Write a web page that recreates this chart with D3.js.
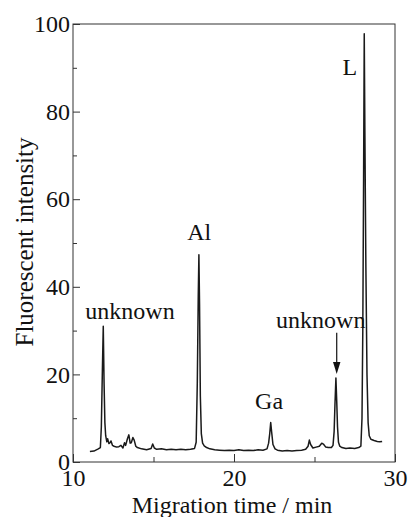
<!DOCTYPE html>
<html>
<head>
<meta charset="utf-8">
<script src="https://cdn.jsdelivr.net/npm/d3@7"></script>
</head>
<body style="margin:0;background:#fff">
<svg id="chart" width="409" height="517" style="display:block"></svg>
<script>
// ---- data ----
const timeMin = [
  11.05, 11.3, 11.57, 11.7, 11.76, 11.82, 11.88, 11.93, 11.98, 12.03,
  12.1, 12.15, 12.23, 12.3, 12.36, 12.45, 12.55, 12.71, 12.85, 12.98,
  13.1, 13.2, 13.27, 13.38, 13.47, 13.55, 13.62, 13.72, 13.8, 13.9,
  14.0, 14.26, 14.57, 14.85, 14.95, 15.05, 15.2, 15.5, 15.8, 16.1,
  16.4, 16.7, 17.0, 17.3, 17.55, 17.65, 17.72, 17.78, 17.82, 17.86,
  17.91, 17.97, 18.05, 18.15, 18.3, 18.5, 18.8, 19.1, 19.4, 19.7,
  20.0, 20.3, 20.6, 20.9, 21.2, 21.5, 21.8, 22.05, 22.15, 22.22,
  22.28, 22.34, 22.42, 22.55, 22.7, 23.0, 23.3, 23.6, 23.9, 24.2,
  24.45, 24.6, 24.68, 24.76, 24.9, 25.1, 25.3, 25.45, 25.55, 25.7,
  25.85, 26.05, 26.15, 26.22, 26.27, 26.33, 26.38, 26.43, 26.49, 26.57,
  26.7, 26.95, 27.2, 27.5, 27.75, 27.88, 27.95, 28.0, 28.05, 28.09,
  28.13, 28.19, 28.26, 28.33, 28.4, 28.5, 28.7, 28.9, 29.05, 29.2
];
const intensity = [
  2.4, 2.5, 3.0, 3.3, 8, 20, 31, 18, 9, 6.0,
  4.6, 5.3, 4.2, 4.4, 4.8, 3.8, 3.6, 3.4, 3.5, 3.8,
  3.2, 4.4, 3.8, 5.3, 6.2, 4.3, 4.4, 5.6, 5.0, 3.6,
  3.3, 3.0, 2.8, 3.1, 4.1, 3.2, 2.9, 3.0, 2.8, 2.9,
  2.8, 2.9, 2.8, 2.9, 3.1, 4.5, 18, 38, 47.3, 36,
  15, 6.5, 4.3, 3.7, 3.3, 3.0, 2.8, 2.7, 2.6, 2.7,
  2.6, 2.8, 2.6, 2.7, 2.6, 2.8, 2.7, 3.0, 4.3, 6.5,
  9.0, 6.8, 4.0, 3.0, 2.7, 2.5, 2.6, 2.5, 2.6, 2.7,
  2.9, 3.6, 5.0, 4.0, 3.2, 3.4, 3.6, 4.3, 4.1, 3.4,
  3.3, 3.3, 3.8, 7, 13, 19.2, 14, 8, 4.5, 3.6,
  3.3, 3.1, 3.2, 3.1, 3.3, 3.6, 10, 30, 65, 97.8,
  75, 45, 20, 9, 6, 5.2, 4.9, 4.7, 4.6, 4.7
];
const xMajorTicks = [10, 20, 30];
const xMinorTicks = [15, 25];
const yMajorTicks = [0, 20, 40, 60, 80, 100];
const yMinorTicks = [10, 30, 50, 70, 90];
const peakLabels = ["unknown", "Al", "Ga", "unknown", "L"];
const peakLabelTime = [13.54, 17.84, 22.18, 25.39, 27.19];
const peakLabelValue = [32.7, 50.7, 12.1, 30.6, 88.4];
const arrowTime = 26.38;
const arrowFrom = 29.5;
const arrowTo = 20.1;
const xTitle = "Migration time / min";
const yTitle = "Fluorescent intensity";

// ---- layout ----
const FONT = "Liberation Serif";
const plot = { left: 73, right: 395, top: 24, bottom: 462 };
const svg = d3.select("#chart");

const x = d3.scaleLinear().domain([10, 30]).range([plot.left, plot.right]);
const y = d3.scaleLinear().domain([0, 100]).range([plot.bottom, plot.top]);

const axisColor = "#333";
const fontSize = 24;

svg.append("rect")
  .attr("x", plot.left).attr("y", plot.top)
  .attr("width", plot.right - plot.left).attr("height", plot.bottom - plot.top)
  .attr("fill", "none").attr("stroke", axisColor).attr("stroke-width", 1);

const gx = svg.append("g").attr("transform", `translate(0,${plot.bottom})`)
  .call(d3.axisBottom(x).tickValues(xMajorTicks).tickSize(-8).tickSizeOuter(0).tickPadding(7).tickFormat(d3.format("d")));
const gx2 = svg.append("g").attr("transform", `translate(0,${plot.bottom})`)
  .call(d3.axisBottom(x).tickValues(xMinorTicks).tickSize(-5).tickSizeOuter(0).tickFormat(""));
const gy = svg.append("g").attr("transform", `translate(${plot.left},0)`)
  .call(d3.axisLeft(y).tickValues(yMajorTicks).tickSize(-7).tickSizeOuter(0).tickPadding(3).tickFormat(d3.format("d")));
const gy2 = svg.append("g").attr("transform", `translate(${plot.left},0)`)
  .call(d3.axisLeft(y).tickValues(yMinorTicks).tickSize(-4).tickSizeOuter(0).tickFormat(""));

[gx, gx2, gy, gy2].forEach(g => {
  g.attr("font-family", FONT).attr("font-size", fontSize);
  g.select(".domain").remove();
  g.selectAll(".tick line").attr("stroke", axisColor).attr("stroke-width", 1);
  g.selectAll(".tick text").attr("font-family", FONT).attr("font-size", fontSize).attr("fill", "#111");
});

svg.append("text")
  .attr("x", 232).attr("y", 513)
  .attr("text-anchor", "middle")
  .attr("font-family", FONT).attr("font-size", fontSize).attr("fill", "#111")
  .text(xTitle);
svg.append("text")
  .attr("transform", `translate(33,242) rotate(-90)`)
  .attr("text-anchor", "middle")
  .attr("font-family", FONT).attr("font-size", 25).attr("fill", "#111")
  .text(yTitle);

const pts = timeMin.map((t, i) => [t, intensity[i]]);
const line = d3.line().x(d => x(d[0])).y(d => y(d[1])).curve(d3.curveLinear);
svg.append("path")
  .datum(pts)
  .attr("d", line)
  .attr("fill", "none")
  .attr("stroke", "#1a1a1a")
  .attr("stroke-width", 1.5)
  .attr("stroke-linejoin", "round");

svg.selectAll(".peaklabel")
  .data(peakLabels)
  .join("text")
  .attr("class", "peaklabel")
  .attr("x", (d, i) => x(peakLabelTime[i]))
  .attr("y", (d, i) => y(peakLabelValue[i]))
  .attr("text-anchor", "middle")
  .attr("font-family", FONT).attr("font-size", fontSize).attr("fill", "#111")
  .text(d => d);

const ax = x(arrowTime), ay1 = y(arrowFrom), ay2 = y(arrowTo);
svg.append("line")
  .attr("x1", ax).attr("x2", ax).attr("y1", ay1).attr("y2", ay2 - 10)
  .attr("stroke", "#111").attr("stroke-width", 1.2);
svg.append("path")
  .attr("d", `M${ax - 3.7},${ay2 - 12} L${ax + 3.7},${ay2 - 12} L${ax},${ay2} Z`)
  .attr("fill", "#111");
</script>
</body>
</html>
